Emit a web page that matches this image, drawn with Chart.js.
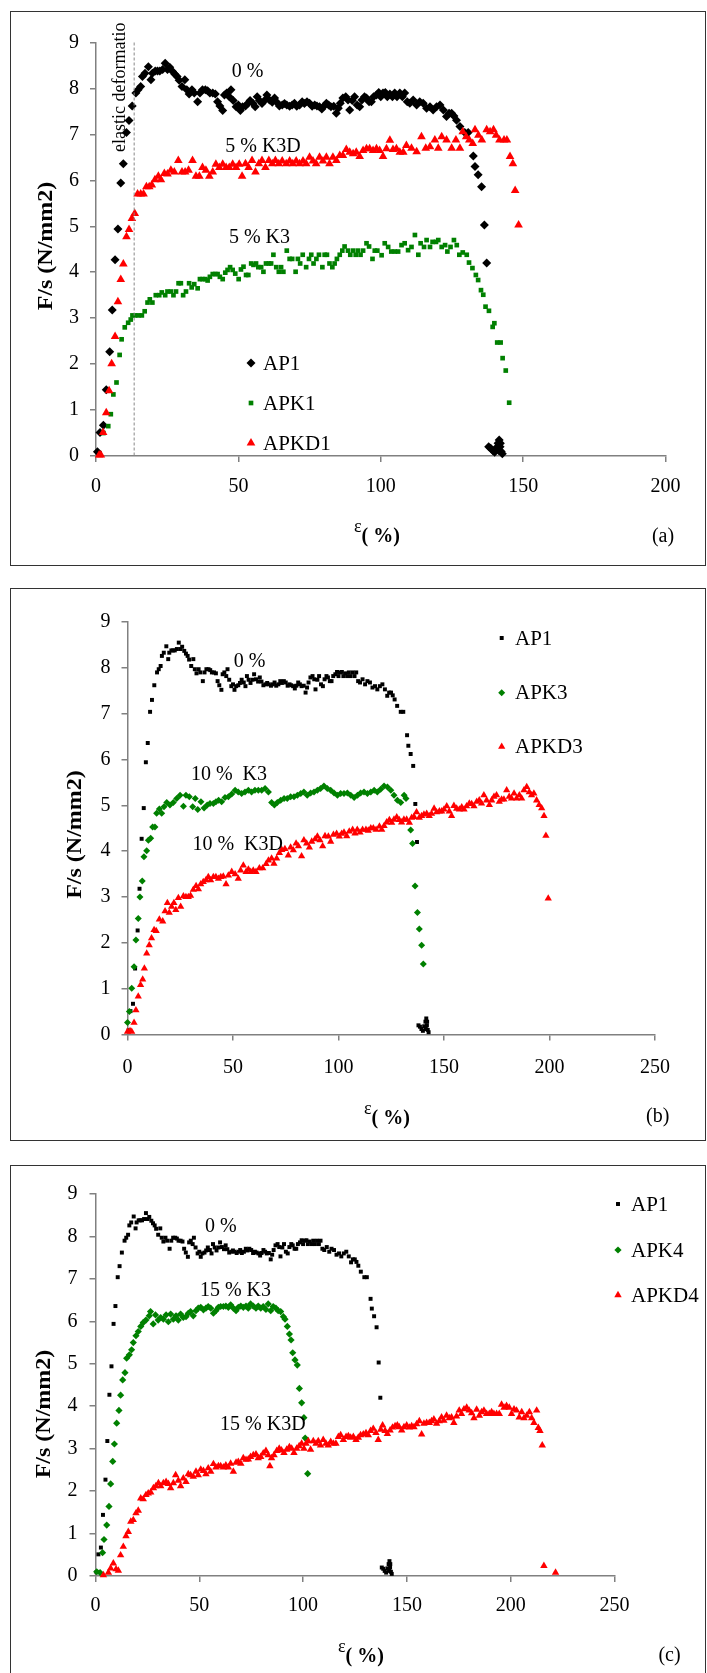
<!DOCTYPE html>
<html><head><meta charset="utf-8">
<script src="https://cdn.jsdelivr.net/npm/chart.js@4.4.0/dist/chart.umd.min.js"></script>
<style>
html,body{margin:0;padding:0;background:#fff;width:707px;height:1673px;overflow:hidden;position:relative;}
.box{position:absolute;border:1.5px solid #333;box-sizing:border-box;}
.wrap{position:absolute;left:0;width:707px;}
canvas{display:block;}
</style></head><body>
<div class="box" style="left:10px;top:11px;width:696px;height:555px"></div>
<div class="box" style="left:10px;top:588px;width:696px;height:553px"></div>
<div class="box" style="left:10px;top:1165px;width:696px;height:530px"></div>
<div class="wrap" style="top:0px;height:570px"><canvas id="ca" width="707" height="570"></canvas></div>
<div class="wrap" style="top:575px;height:570px"><canvas id="cb" width="707" height="570"></canvas></div>
<div class="wrap" style="top:1150px;height:523px"><canvas id="cc" width="707" height="523"></canvas></div>
<script>
// ---------------- DATA ----------------
const yTicks = [0,1,2,3,4,5,6,7,8,9];
const xTicksA = [0,50,100,150,200];
const xTicksBC = [0,50,100,150,200,250];
const elasticX = 13.4;

// AP1 (reference, 0 %) - same test in all three panels
const ap1X = [0.5,1.4,2.6,3.6,4.8,5.7,6.7,7.7,8.7,9.6,10.7,11.6,12.7,14.0,14.8,15.7,16.3,17.2,18.4,19.3,19.8,20.8,21.6,22.4,23.4,24.3,25.1,25.9,26.9,27.7,28.5,29.2,30.2,31.2,31.9,32.7,33.7,34.5,35.7,36.5,37.4,38.4,39.2,40.0,41.0,41.9,42.7,43.5,44.5,45.1,45.9,46.8,47.4,48.2,49.2,50.0,50.7,51.5,52.5,53.3,54.1,55.1,55.9,56.6,57.4,58.3,59.2,60.0,60.9,61.9,62.7,63.5,64.4,65.4,66.2,67.0,68.0,68.9,69.7,70.5,71.5,72.4,73.2,74.1,75.0,75.9,76.8,77.6,78.5,79.3,80.0,80.9,81.7,82.5,83.5,84.4,85.1,85.8,86.7,87.7,88.5,89.1,90.0,90.8,91.7,92.6,93.4,94.3,95.0,95.9,96.7,97.5,98.5,99.3,100.0,100.8,101.6,102.3,103.2,104.1,104.9,105.7,106.7,107.6,108.4,109.3,110.2,111.4,112.6,113.7,114.9,116.1,117.3,118.4,119.6,120.8,122.0,123.1,124.0,124.9,125.7,126.6,127.8,129.5,130.7,132.5,133.1,134.2,135.4,136.4,137.2,137.9,138.6,139.3,140.0,140.6,141.2,141.6,141.9,142.3,142.7,142.0,141.4];
const ap1Y = [0.09,0.51,0.67,1.44,2.27,3.18,4.27,4.94,5.94,6.36,7.04,7.30,7.62,7.90,7.97,8.04,8.26,8.33,8.47,8.19,8.33,8.38,8.38,8.38,8.41,8.55,8.41,8.46,8.37,8.31,8.26,8.18,8.04,8.19,7.97,7.88,7.97,7.90,7.71,7.90,7.97,7.97,7.95,7.90,7.90,7.88,7.71,7.62,7.52,7.86,7.90,7.82,7.97,7.74,7.60,7.64,7.52,7.60,7.62,7.67,7.74,7.68,7.60,7.82,7.74,7.67,7.74,7.86,7.75,7.70,7.79,7.70,7.62,7.64,7.67,7.64,7.61,7.64,7.68,7.61,7.64,7.71,7.67,7.71,7.68,7.61,7.64,7.62,7.60,7.55,7.61,7.68,7.64,7.60,7.61,7.46,7.57,7.68,7.79,7.82,7.75,7.53,7.74,7.82,7.64,7.60,7.75,7.82,7.79,7.71,7.71,7.82,7.86,7.91,7.82,7.90,7.91,7.82,7.88,7.82,7.90,7.82,7.90,7.82,7.90,7.71,7.68,7.75,7.64,7.71,7.68,7.57,7.60,7.53,7.60,7.64,7.53,7.39,7.46,7.46,7.40,7.31,7.17,7.04,7.04,6.53,6.30,6.12,5.86,5.03,4.20,0.20,0.17,0.12,0.08,0.18,0.28,0.35,0.20,0.10,0.05,0.28,0.12];

// APK1 (5 % K3)
const apk1X = [2.6,4.3,5.2,6.1,7.2,8.3,9.0,10.1,11.3,12.2,12.8,13.7,14.9,16.1,17.1,18.1,18.9,19.8,21.0,22.2,23.1,24.3,25.1,26.3,27.2,28.1,29.0,29.8,30.6,31.6,32.7,33.6,34.5,35.7,36.5,37.4,38.4,39.2,40.0,41.0,41.9,42.7,43.5,44.5,45.4,46.2,47.1,48.0,48.9,50.1,50.9,51.8,52.7,53.5,54.5,55.3,56.2,57.0,58.0,58.8,59.7,60.7,61.5,62.3,63.3,64.2,65.0,65.8,67.0,68.0,68.9,70.1,70.9,71.7,72.6,73.8,74.8,75.6,76.4,77.4,78.3,79.5,80.3,81.1,82.0,83.0,83.8,84.6,85.6,86.5,87.3,88.5,89.3,90.3,91.2,92.0,92.9,93.8,95.0,95.9,97.1,97.9,98.8,100.3,101.4,102.6,103.7,104.9,106.1,107.3,108.4,109.6,110.8,112.0,113.2,114.0,115.2,116.1,117.3,118.2,119.4,120.2,121.4,122.6,123.4,124.5,125.7,126.7,127.6,128.8,130.2,131.0,132.2,133.4,134.2,135.2,136.0,136.8,138.0,139.3,139.9,140.9,142.1,142.8,143.9,145.1];
const apk1Y = [0.50,0.65,0.91,1.34,1.60,2.20,2.54,2.80,2.90,2.97,3.06,3.06,3.06,3.06,3.15,3.34,3.41,3.34,3.50,3.50,3.56,3.50,3.58,3.58,3.50,3.58,3.76,3.76,3.50,3.58,3.76,3.67,3.74,3.65,3.85,3.85,3.85,3.82,3.90,3.96,3.96,3.96,3.90,3.85,3.99,4.05,4.11,4.05,3.97,3.85,4.06,4.12,3.94,3.94,4.19,4.16,4.19,4.11,4.11,4.01,4.19,4.19,4.19,4.38,4.11,4.01,4.11,4.01,4.47,4.29,4.29,4.01,4.29,4.19,4.38,4.11,4.29,4.38,4.19,4.29,4.38,4.11,4.38,4.38,4.19,4.11,4.19,4.29,4.38,4.47,4.56,4.47,4.38,4.47,4.38,4.47,4.38,4.47,4.63,4.56,4.29,4.47,4.47,4.37,4.63,4.55,4.45,4.45,4.45,4.59,4.63,4.48,4.55,4.81,4.38,4.63,4.55,4.70,4.55,4.66,4.66,4.70,4.55,4.59,4.45,4.55,4.70,4.59,4.38,4.43,4.38,4.21,4.09,3.94,3.83,3.61,3.51,3.25,3.16,2.81,2.89,2.47,2.47,2.13,1.86,1.16];

// APKD1 (5 % K3D)
const apkd1X = [1.1,1.7,2.5,3.6,4.6,5.5,6.7,7.7,8.7,9.6,10.7,11.6,12.6,13.6,14.6,15.7,16.7,17.7,18.7,19.6,20.7,21.9,22.8,24.0,25.1,26.3,27.5,28.9,30.2,31.3,32.5,33.9,35.1,36.3,37.4,38.6,39.8,41.0,42.1,43.3,44.5,45.7,46.8,48.0,49.2,50.3,51.3,52.5,53.6,54.8,56.0,57.2,58.3,59.5,60.7,61.9,63.0,64.2,65.4,66.8,68.0,69.1,70.3,71.5,72.7,73.8,75.0,76.2,77.3,78.5,79.7,80.9,82.0,83.2,84.4,85.6,86.7,87.9,89.1,90.3,91.4,92.6,93.8,95.0,96.1,97.3,98.5,99.6,100.8,102.0,103.2,104.3,105.5,106.7,107.9,109.0,110.8,112.6,114.3,115.8,117.3,119.0,120.2,121.4,123.1,124.9,126.4,127.8,128.8,130.0,131.1,132.3,133.1,134.3,135.5,137.2,138.4,139.6,140.5,141.7,143.3,144.3,145.4,146.4,147.2,148.4];
const apkd1Y = [0.02,0.02,0.51,0.94,1.42,2.01,2.60,3.36,3.84,4.18,4.77,4.93,5.17,5.28,5.70,5.70,5.70,5.86,5.86,5.90,6.01,6.09,6.01,6.15,6.14,6.22,6.18,6.43,6.18,6.18,6.22,6.43,6.09,6.09,6.28,6.22,6.09,6.18,6.35,6.28,6.35,6.28,6.28,6.35,6.28,6.35,6.09,6.36,6.28,6.43,6.18,6.36,6.43,6.28,6.43,6.36,6.43,6.36,6.42,6.36,6.42,6.36,6.42,6.36,6.42,6.36,6.50,6.42,6.36,6.50,6.42,6.50,6.36,6.50,6.43,6.54,6.54,6.67,6.61,6.58,6.61,6.52,6.65,6.69,6.69,6.65,6.69,6.65,6.52,6.69,6.87,6.67,6.69,6.61,6.61,6.76,6.70,6.62,6.95,6.70,6.73,6.88,6.70,6.95,6.88,6.70,6.88,6.70,7.06,6.95,6.88,6.80,7.10,6.98,6.88,7.10,7.06,7.10,6.98,6.88,6.88,6.88,6.52,6.36,5.78,5.03];

// APK3 (10 % K3)
const apk3X = [0.0,0.9,2.0,3.1,4.0,5.1,5.9,7.0,7.8,9.1,9.9,11.0,11.9,13.0,13.8,15.1,16.2,17.3,18.6,20.1,21.7,23.3,24.9,26.5,27.7,29.3,30.9,32.1,33.3,34.8,36.3,37.8,39.1,40.7,41.9,43.2,44.6,46.2,47.8,49.4,51.0,52.5,54.1,55.7,57.3,58.8,60.4,62.0,63.6,65.2,66.8,68.3,69.6,71.0,72.6,74.2,75.7,77.3,78.9,80.5,82.1,83.6,85.2,86.8,88.4,90.0,91.5,93.1,94.7,96.3,97.9,99.5,101.0,102.6,104.2,105.8,107.4,109.0,110.5,112.1,113.7,115.3,116.9,118.4,120.0,121.6,123.2,124.8,126.3,127.9,129.5,131.1,132.0,134.2,135.1,136.3,137.4,138.3,139.4,140.2];
const apk3Y = [0.26,0.50,1.01,1.48,2.06,2.53,3.00,3.35,3.88,4.01,4.24,4.28,4.53,4.53,4.83,4.92,4.83,4.97,5.06,5.01,5.06,5.15,5.22,4.98,5.22,5.19,4.97,5.15,4.91,5.08,4.94,5.01,5.04,5.04,5.08,5.11,5.08,5.17,5.19,5.25,5.33,5.29,5.26,5.29,5.33,5.29,5.33,5.33,5.33,5.37,5.29,5.06,5.01,5.06,5.11,5.15,5.15,5.19,5.19,5.22,5.26,5.29,5.22,5.27,5.29,5.33,5.37,5.42,5.37,5.33,5.27,5.22,5.26,5.26,5.27,5.22,5.17,5.22,5.27,5.29,5.26,5.29,5.33,5.29,5.35,5.42,5.40,5.33,5.22,5.11,5.06,5.22,5.15,4.46,4.17,3.24,2.66,2.30,1.95,1.54];

// APKD3 (10 % K3D)
const apkd3X = [0.0,1.2,2.0,3.1,4.0,5.1,6.2,7.2,8.0,9.1,10.3,11.4,12.6,13.6,15.1,16.7,17.8,18.9,19.8,20.9,22.0,22.9,24.1,25.2,26.5,27.7,28.8,29.9,31.2,32.5,33.6,34.7,35.9,37.2,38.3,39.4,40.7,41.9,43.1,44.2,45.4,46.7,47.8,49.4,51.0,52.5,53.6,54.9,56.2,57.3,58.4,59.6,60.9,62.5,64.1,65.7,66.8,68.3,69.4,70.7,72.0,73.1,74.6,76.2,77.3,78.6,79.9,81.0,82.5,83.6,84.9,86.2,87.3,88.9,90.0,91.2,92.5,93.6,95.2,96.3,97.6,99.1,100.4,101.5,102.6,103.9,105.1,106.7,107.8,108.9,110.2,111.4,113.0,114.1,115.3,116.5,117.8,119.4,120.5,121.6,122.8,124.1,125.2,126.3,127.6,128.8,129.9,131.0,132.3,133.6,134.7,135.8,137.0,138.3,139.4,140.5,141.8,143.0,144.1,145.3,146.5,147.8,148.9,150.0,151.3,152.5,153.6,154.7,156.0,157.3,158.4,159.5,160.7,162.0,163.1,164.2,165.5,166.7,167.8,168.9,170.2,171.5,172.6,173.7,174.9,176.2,177.3,178.4,179.7,180.9,182.0,183.2,184.4,185.7,186.8,187.9,189.2,190.4,191.5,192.6,193.9,195.1,196.3,197.4,198.3,199.4];
const apkd3Y = [0.06,0.08,0.06,0.26,0.53,0.83,1.08,1.20,1.44,1.77,1.95,2.10,2.28,2.26,2.51,2.47,2.69,2.87,2.66,2.79,2.87,2.72,2.98,2.79,3.02,3.00,3.00,3.03,3.16,3.24,3.17,3.28,3.33,3.37,3.44,3.37,3.44,3.44,3.40,3.44,3.45,3.28,3.47,3.55,3.50,3.40,3.58,3.69,3.55,3.60,3.55,3.58,3.55,3.63,3.63,3.72,3.80,3.84,3.73,3.84,3.96,4.03,4.05,3.91,4.08,4.02,4.17,4.11,3.89,4.24,4.17,4.08,4.21,4.26,4.32,4.24,4.11,4.33,4.32,4.21,4.36,4.38,4.32,4.38,4.41,4.33,4.43,4.47,4.39,4.47,4.41,4.47,4.47,4.45,4.50,4.50,4.47,4.54,4.47,4.55,4.63,4.68,4.62,4.69,4.74,4.68,4.63,4.69,4.69,4.62,4.73,4.75,4.85,4.73,4.77,4.80,4.82,4.77,4.82,4.93,4.85,4.87,4.87,4.91,4.98,4.87,4.77,4.99,4.93,4.91,4.96,4.91,4.98,5.04,5.03,4.98,5.08,5.11,5.04,5.22,5.11,5.01,5.11,5.19,5.22,5.08,5.13,5.13,5.33,5.19,5.15,5.26,5.15,5.22,5.15,5.33,5.40,5.29,5.22,5.26,5.11,5.01,4.94,4.77,4.34,2.97];

// APK4 (15 % K3)
const apk4X = [0.6,2.2,3.4,4.1,5.4,6.5,7.3,8.3,9.1,10.2,11.3,12.1,13.1,14.2,15.0,16.3,17.4,18.2,19.5,20.6,21.8,23.0,24.3,25.9,26.5,27.8,28.9,30.2,31.4,32.7,34.0,35.1,36.2,37.5,38.8,39.9,41.0,42.3,43.6,44.7,45.8,47.1,48.4,49.5,50.7,52.0,53.2,54.3,55.5,56.8,58.0,59.2,60.3,61.6,62.8,64.0,65.1,66.4,67.7,68.8,70.0,71.2,72.5,73.6,74.7,76.0,77.3,78.4,79.6,80.8,82.1,83.2,84.4,85.6,86.9,88.0,89.2,90.5,91.3,92.4,93.4,94.2,95.0,96.1,97.2,98.2,99.3,100.4,101.0,102.2];
const apk4Y = [0.10,0.08,0.55,0.86,1.20,1.64,2.17,2.70,3.11,3.60,3.90,4.26,4.62,4.79,5.13,5.21,5.33,5.50,5.66,5.76,5.88,5.97,6.03,6.13,6.23,5.94,6.15,6.03,6.09,6.05,6.15,5.99,6.17,6.05,6.13,6.03,6.17,6.09,6.11,6.19,6.23,6.13,6.25,6.31,6.33,6.27,6.31,6.35,6.31,6.19,6.25,6.33,6.35,6.35,6.36,6.33,6.39,6.31,6.25,6.33,6.36,6.33,6.36,6.31,6.41,6.36,6.31,6.36,6.31,6.35,6.28,6.41,6.25,6.35,6.31,6.25,6.23,6.11,6.05,5.88,5.70,5.56,5.26,5.09,4.97,4.42,4.08,3.73,3.25,2.41];

// APKD4 (15 % K3D)
const apkd4X = [3.8,6.2,7.3,8.6,9.9,11.0,12.1,13.4,14.7,15.8,17.0,18.2,19.5,20.6,21.8,23.0,24.3,25.4,26.6,27.9,29.1,30.3,31.4,32.7,34.0,35.1,36.2,37.5,38.6,39.9,41.0,42.3,43.6,44.7,45.8,47.1,48.4,49.5,50.7,52.0,53.2,54.3,55.5,56.8,58.0,59.2,60.3,61.6,62.8,64.0,65.1,66.4,67.7,68.8,70.0,71.2,72.5,73.6,74.7,76.0,77.3,78.4,79.6,80.8,82.1,83.2,84.0,84.8,86.0,87.3,88.5,89.6,90.8,92.1,93.4,94.5,95.6,96.9,98.1,99.3,100.4,101.4,102.5,103.6,104.9,106.2,107.3,108.4,109.7,111.0,112.1,113.3,114.6,115.8,117.0,118.1,119.4,120.7,121.8,122.9,124.2,125.5,126.6,127.7,129.0,130.3,131.4,132.5,133.8,135.1,136.2,137.4,138.3,139.5,140.6,141.9,143.1,144.3,145.4,146.3,147.5,148.6,149.9,151.2,152.3,153.4,154.7,156.0,157.1,158.2,159.5,160.8,161.9,163.0,164.3,165.6,166.7,167.8,169.1,170.4,171.5,172.6,173.9,175.2,176.3,177.5,178.8,180.0,181.2,182.3,183.6,184.9,186.0,187.1,188.4,189.7,190.8,191.9,193.2,194.5,195.6,196.8,198.0,199.3,200.4,201.6,202.8,204.1,205.3,206.4,207.7,209.0,210.1,211.2,212.5,213.3,214.1,215.2,216.0,221.6];
const apkd4Y = [0.02,0.08,0.18,0.30,0.16,0.13,0.49,0.69,0.94,1.04,1.28,1.32,1.48,1.54,1.83,1.81,1.91,1.95,1.97,2.07,2.12,2.19,2.12,2.19,2.22,2.17,2.07,2.19,2.38,2.25,2.12,2.30,2.22,2.40,2.38,2.34,2.46,2.38,2.51,2.48,2.40,2.54,2.46,2.64,2.56,2.59,2.59,2.56,2.61,2.56,2.65,2.46,2.67,2.69,2.65,2.78,2.74,2.75,2.81,2.85,2.87,2.78,2.81,2.89,2.95,2.85,2.59,2.78,2.85,2.95,3.00,2.96,2.90,2.98,3.04,3.00,2.90,3.00,3.06,3.12,3.00,3.12,3.18,2.98,3.18,3.12,3.18,3.08,3.21,3.12,3.08,3.16,3.12,3.12,3.28,3.32,3.21,3.28,3.30,3.26,3.28,3.21,3.26,3.32,3.34,3.37,3.32,3.42,3.47,3.37,3.21,3.45,3.55,3.42,3.35,3.43,3.50,3.53,3.55,3.51,3.43,3.51,3.55,3.50,3.53,3.51,3.58,3.65,3.34,3.59,3.61,3.61,3.65,3.69,3.59,3.65,3.74,3.66,3.78,3.72,3.74,3.61,3.76,3.90,3.82,3.93,3.97,3.90,3.84,3.72,3.92,3.78,3.86,3.90,3.82,3.82,3.86,3.82,3.82,3.82,4.04,3.97,4.01,3.97,3.82,3.93,3.90,3.74,3.86,3.72,3.78,3.86,3.72,3.61,3.90,3.49,3.42,3.08,0.24,0.08];

// ---------------- RENDER ----------------
const FONT = '"Liberation Serif","Times New Roman",Times,serif';
const BLACK = '#000000', GREEN = '#008000', RED = '#ff0000';
function pts(xs, ys) { return xs.map((x, i) => ({ x: x, y: ys[i] })); }

function ds(label, xs, ys, color, style, r, order) {
  return { label: label, data: pts(xs, ys), showLine: false, pointStyle: style, pointRadius: r,
    pointBackgroundColor: color, pointBorderColor: color, pointBorderWidth: 0, backgroundColor: color,
    borderColor: color, order: order, clip: false };
}

function drawText(ctx, t, x, y, font, align, base) {
  ctx.font = font; ctx.fillStyle = '#000'; ctx.textAlign = align || 'center'; ctx.textBaseline = base || 'middle';
  ctx.fillText(t, x, y);
}

function decoPlugin(d) {
  return {
    id: 'deco',
    afterDatasetsDraw(chart) {
      const ctx = chart.ctx;
      ctx.save();
      // elastic deformation marker line (panel a)
      if (d.elastic) {
        const xs = chart.scales.x, ys = chart.scales.y;
        const px = xs.getPixelForValue(elasticX);
        ctx.strokeStyle = '#888'; ctx.lineWidth = 1; ctx.setLineDash([3, 2]);
        ctx.beginPath(); ctx.moveTo(px, ys.getPixelForValue(9)); ctx.lineTo(px, ys.getPixelForValue(0)); ctx.stroke();
        ctx.setLineDash([]);
        ctx.save();
        ctx.beginPath(); ctx.rect(0, d.elastic.clipTop, 707, 600); ctx.clip();
        ctx.translate(d.elastic.x, d.elastic.y); ctx.rotate(-Math.PI / 2);
        drawText(ctx, 'elastic deformation', 0, 0, '18px ' + FONT, 'left', 'middle');
        ctx.restore();
      }
      // annotations
      d.notes.forEach(n => drawText(ctx, n.t, n.x, n.y, '20px ' + FONT, 'center', 'middle'));
      // legend
      const H = Chart.helpers;
      chart.data.datasets.forEach((s, i) => {
        const ly = d.legend.ys[i];
        ctx.fillStyle = s.pointBackgroundColor; ctx.strokeStyle = s.pointBackgroundColor;
        H.drawPoint(ctx, { pointStyle: s.pointStyle, radius: s.pointRadius, rotation: 0, borderWidth: 0 }, d.legend.mx, ly);
        drawText(ctx, s.label, d.legend.tx, ly + 1, '21px ' + FONT, 'left', 'middle');
      });
      // y title
      ctx.save();
      ctx.translate(d.ytitle.x, d.ytitle.y); ctx.rotate(-Math.PI / 2); ctx.scale(1.2, 1);
      drawText(ctx, 'F/s (N/mm2)', 0, 0, 'bold 20px ' + FONT, 'center', 'middle');
      ctx.restore();
      // x title  ε( %)
      ctx.font = 'bold 20px ' + FONT;
      const w2 = ctx.measureText('( %)').width;
      ctx.font = '18px ' + FONT;
      const w1 = ctx.measureText('ε').width;
      const x0 = d.xtitle.x - (w1 + w2) / 2;
      drawText(ctx, 'ε', x0, d.xtitle.y - 9, '18px ' + FONT, 'left', 'middle');
      drawText(ctx, '( %)', x0 + w1, d.xtitle.y + 1, 'bold 20px ' + FONT, 'left', 'middle');
      // panel letter
      drawText(ctx, d.letter.t, d.letter.x, d.letter.y, '20px ' + FONT, 'center', 'middle');
      ctx.restore();
    }
  };
}

function makeChart(id, H, area, xMax, xTickVals, datasets, yPad, xPad, deco) {
  const YW = 40, XH = 40;
  const axisCol = '#808080';
  new Chart(document.getElementById(id), {
    type: 'scatter',
    data: { datasets: datasets },
    options: {
      responsive: false, maintainAspectRatio: false, animation: false, devicePixelRatio: 1, events: [],
      layout: { padding: { left: area.l - YW, right: 707 - area.r, top: area.t, bottom: H - area.b - XH } },
      plugins: { legend: { display: false }, tooltip: { enabled: false } },
      scales: {
        x: { type: 'linear', min: 0, max: xMax,
          afterBuildTicks: s => { s.ticks = xTickVals.map(v => ({ value: v })); },
          afterFit: s => { s.height = XH; },
          ticks: { color: '#000', font: { family: FONT, size: 20 }, padding: xPad, maxRotation: 0, autoSkip: false },
          grid: { display: true, drawOnChartArea: false, drawTicks: true, tickLength: 6, color: axisCol, lineWidth: 1.5 },
          border: { display: true, color: axisCol, width: 1.5 } },
        y: { type: 'linear', min: 0, max: 9,
          afterBuildTicks: s => { s.ticks = yTicks.map(v => ({ value: v })); },
          afterFit: s => { s.width = YW; },
          ticks: { color: '#000', font: { family: FONT, size: 20 }, padding: yPad, autoSkip: false },
          grid: { display: true, drawOnChartArea: false, drawTicks: true, tickLength: 6, color: axisCol, lineWidth: 1.5 },
          border: { display: true, color: axisCol, width: 1.5 } }
      }
    },
    plugins: [decoPlugin(deco)]
  });
}

// Panel (a)
makeChart('ca', 570, { l: 96, r: 665.5, t: 42.5, b: 456 }, 200, xTicksA, [
  ds('AP1', ap1X, ap1Y, BLACK, 'rectRot', 4.5, 2),
  ds('APK1', apk1X, apk1Y, GREEN, 'rect', 3.3, 1),
  ds('APKD1', apkd1X, apkd1Y, RED, 'triangle', 5, 0)
], 11, 13, {
  elastic: { x: 120, y: 152, clipTop: 22 },
  notes: [{ t: '0 %', x: 247.5, y: 72 }, { t: '5 % K3D', x: 263, y: 147 }, { t: '5 % K3', x: 259.5, y: 238 }],
  legend: { mx: 251, tx: 263, ys: [363, 403, 443] },
  ytitle: { x: 47, y: 246 }, xtitle: { x: 377, y: 536 }, letter: { t: '(a)', x: 663, y: 537 }
});

// Panel (b)
makeChart('cb', 570, { l: 127.5, r: 655, t: 47, b: 459.5 }, 250, xTicksBC, [
  ds('AP1', ap1X, ap1Y, BLACK, 'rect', 2.8, 2),
  ds('APK3', apk3X, apk3Y, GREEN, 'rectRot', 3.5, 1),
  ds('APKD3', apkd3X, apkd3Y, RED, 'triangle', 4.2, 0)
], 11, 15, {
  notes: [{ t: '0 %', x: 249.5, y: 86.7 }, { t: '10 %  K3', x: 229, y: 200 }, { t: '10 %  K3D', x: 237.7, y: 270 }],
  legend: { mx: 501.7, tx: 515, ys: [63, 117.7, 171.7] },
  ytitle: { x: 76, y: 259.5 }, xtitle: { x: 387, y: 543 }, letter: { t: '(b)', x: 657.7, y: 542 }
});

// Panel (c)
makeChart('cc', 523, { l: 95.5, r: 614.5, t: 44, b: 426 }, 250, xTicksBC, [
  ds('AP1', ap1X, ap1Y, BLACK, 'rect', 2.8, 2),
  ds('APK4', apk4X, apk4Y, GREEN, 'rectRot', 3.6, 1),
  ds('APKD4', apkd4X, apkd4Y, RED, 'triangle', 4.3, 0)
], 12, 12, {
  notes: [{ t: '0 %', x: 220.8, y: 77 }, { t: '15 % K3', x: 235.5, y: 141 }, { t: '15 % K3D', x: 262.8, y: 275 }],
  legend: { mx: 618, tx: 631, ys: [54, 100, 145] },
  ytitle: { x: 45, y: 264 }, xtitle: { x: 361, y: 506 }, letter: { t: '(c)', x: 669.5, y: 506 }
});
</script>
</body></html>
